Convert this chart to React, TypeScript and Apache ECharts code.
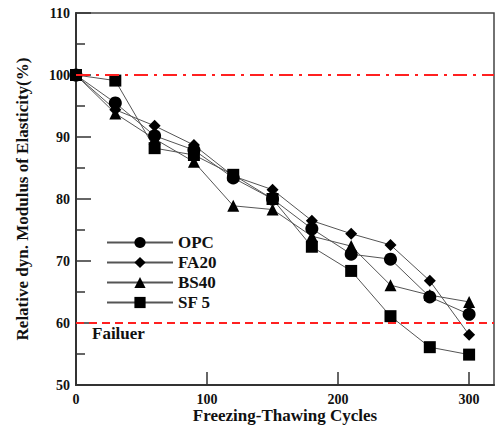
import React, { useEffect, useRef } from "react";
import * as echarts from "echarts";

const cycles = [0, 30, 60, 90, 120, 150, 180, 210, 240, 270, 300];
const opc = [100, 95.5, 90.2, 87.9, 83.4, 80.0, 75.2, 71.1, 70.3, 64.2, 61.4];
const fa20 = [100, 94.4, 91.8, 88.7, 83.7, 81.5, 76.5, 74.4, 72.6, 66.8, 58.1];
const bs40 = [100, 93.8, 89.7, 86.0, 78.9, 78.3, 74.0, 72.4, 66.1, 64.5, 63.4];
const sf5 = [100, 99.1, 88.2, 87.1, 83.9, 80.0, 72.3, 68.4, 61.1, 56.1, 54.9];
const seriesNames = ["OPC", "FA20", "BS40", "SF 5"];
const limitValue = 100;
const failureValue = 60;
const failureLabel = "Failuer";

const FONT = "'Liberation Serif', 'Times New Roman', serif";

export default function App() {
  const ref = useRef<HTMLDivElement>(null);
  useEffect(() => {
    if (!ref.current) return;
    const chart = echarts.init(ref.current, null, { renderer: "svg" });
    const mk = (name: string, data: number[], symbol: string, size: number) => ({
      name,
      type: "line",
      data: cycles.map((c, i) => [c, data[i]]),
      symbol,
      symbolSize: size,
      itemStyle: { color: "#000" },
      lineStyle: { color: "#555", width: 1 },
      z: 3,
    });
    const series: any[] = [
      mk(seriesNames[0], opc, "circle", 13),
      mk(seriesNames[1], fa20, "diamond", 12),
      mk(seriesNames[2], bs40, "triangle", 12),
      mk(seriesNames[3], sf5, "rect", 12),
      {
        name: "limits",
        type: "line",
        data: [],
        markLine: {
          silent: true,
          symbol: "none",
          animation: false,
          data: [
            {
              yAxis: limitValue,
              lineStyle: { color: "#ff2020", width: 2, type: [14, 6, 3, 6] },
              label: { show: false },
            },
            {
              yAxis: failureValue,
              lineStyle: { color: "#ff2020", width: 2, type: [8, 5] },
              label: {
                show: true,
                position: "insideStartBottom",
                formatter: failureLabel,
                fontFamily: FONT,
                fontWeight: "bold",
                fontSize: 17,
                color: "#111",
                distance: [16, 2],
              },
            },
          ],
        },
        z: 1,
      },
    ];
    chart.setOption({
      animation: false,
      backgroundColor: "#fff",
      grid: {
        left: 76,
        right: 1,
        top: 13,
        bottom: 42,
        outerBoundsMode: "none",
        show: true,
        borderColor: "#444",
        borderWidth: 1.5,
      },
      legend: {
        data: seriesNames,
        orient: "vertical",
        left: 106,
        top: 234,
        padding: 0,
        itemWidth: 66,
        itemHeight: 14,
        itemGap: 3,
        textStyle: {
          fontFamily: FONT,
          fontWeight: "bold",
          fontSize: 17,
          color: "#111",
          lineHeight: 14,
        },
      },
      xAxis: {
        type: "value",
        min: 0,
        max: 319,
        interval: 100,
        name: "Freezing-Thawing Cycles",
        nameLocation: "middle",
        nameGap: 22,
        nameMoveOverlap: false,
        nameTextStyle: { fontFamily: FONT, fontWeight: "bold", fontSize: 17, color: "#111" },
        axisLine: { show: true, lineStyle: { color: "#333", width: 2 } },
        axisTick: { show: true, inside: true, length: 13, lineStyle: { color: "#333", width: 1.5 } },
        axisLabel: {
          fontFamily: FONT,
          fontWeight: "bold",
          fontSize: 14,
          color: "#111",
          margin: 7,
          showMaxLabel: false,
          formatter: (v: number) => (v % 100 === 0 ? String(v) : ""),
        },
        splitLine: { show: false },
      },
      yAxis: {
        type: "value",
        min: 50,
        max: 110,
        interval: 10,
        name: "Relative dyn. Modulus of Elasticity(%)",
        nameLocation: "middle",
        nameGap: 45,
        nameTextStyle: { fontFamily: FONT, fontWeight: "bold", fontSize: 17, color: "#111" },
        axisLine: { show: true, lineStyle: { color: "#333", width: 2 } },
        axisTick: { show: true, inside: true, length: 15, lineStyle: { color: "#333", width: 1.5 } },
        minorTick: { show: true, splitNumber: 2, length: 9, lineStyle: { color: "#333", width: 1.5 } },
        axisLabel: {
          fontFamily: FONT,
          fontWeight: "bold",
          fontSize: 14,
          color: "#111",
          margin: 6,
        },
        splitLine: { show: false },
      },
      series,
    });
    return () => chart.dispose();
  }, []);
  return <div ref={ref} style={{ width: 495, height: 427, position: "absolute", left: 0, top: 0 }} />;
}
